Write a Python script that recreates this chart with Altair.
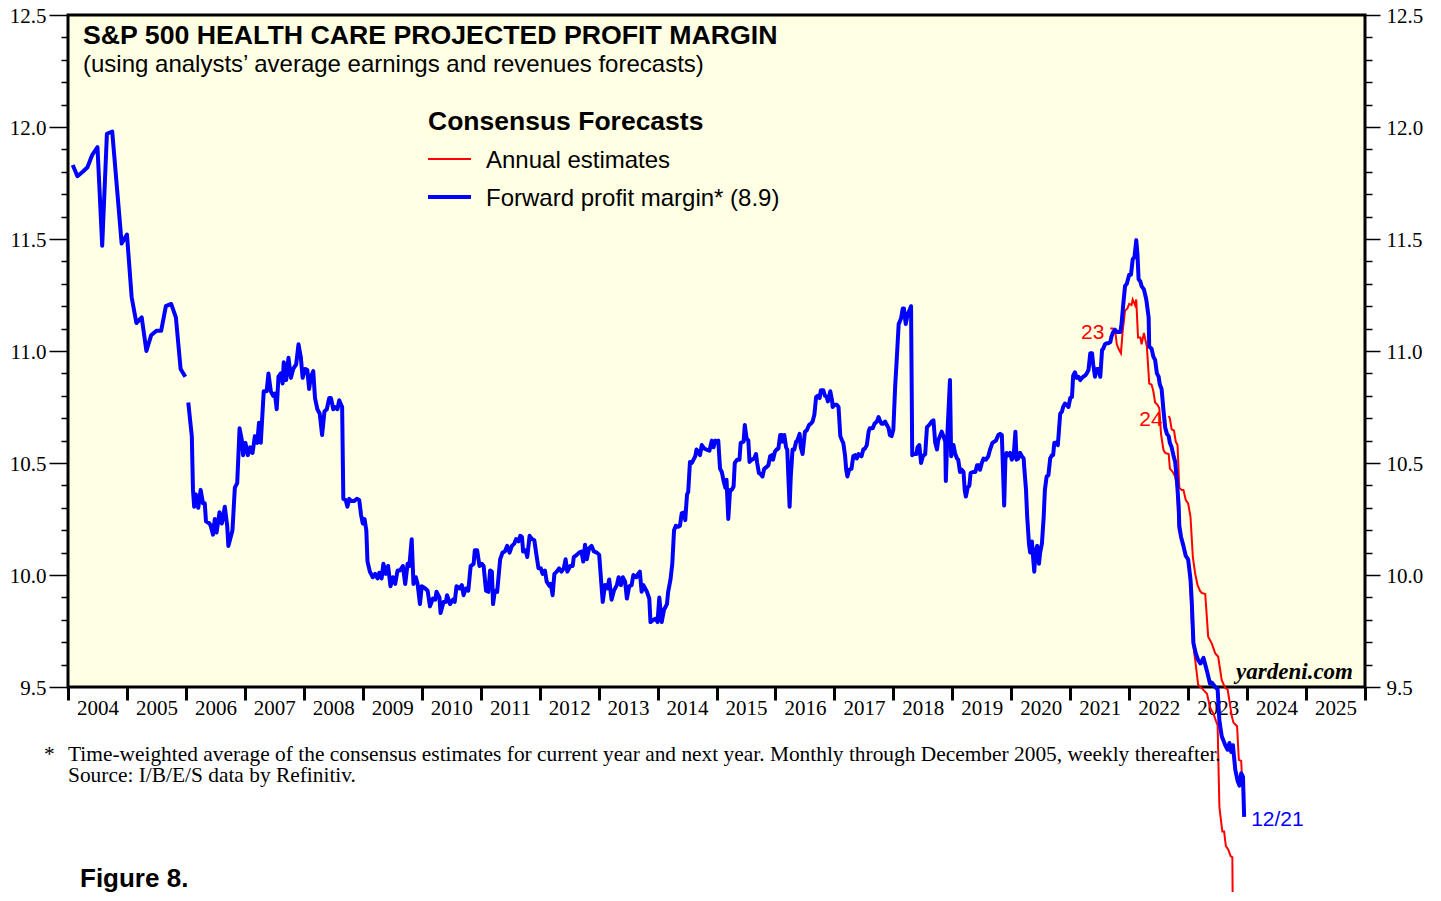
import altair as alt
import pandas as pd

# ---------------- data ----------------
# Forward profit margin, monthly Jan 2004 - Dec 2005
mon_years = [2004.08, 2004.16, 2004.25, 2004.33, 2004.41, 2004.50, 2004.58, 2004.66,
             2004.75, 2004.83, 2004.91, 2005.00, 2005.08, 2005.16, 2005.25, 2005.33,
             2005.41, 2005.50, 2005.58, 2005.66, 2005.75, 2005.83, 2005.91, 2005.99]
mon_vals = [11.83, 11.78, 11.80, 11.82, 11.875, 11.91, 11.47, 11.97,
            11.98, 11.73, 11.48, 11.52, 11.24, 11.125, 11.15, 11.00,
            11.07, 11.09, 11.09, 11.20, 11.21, 11.15, 10.92, 10.885]

# Forward profit margin, weekly thereafter
wk_years = [
    2006.04, 2006.10, 2006.12, 2006.14, 2006.17, 2006.21, 2006.25, 2006.29, 2006.32, 2006.34,
    2006.40, 2006.42, 2006.46, 2006.49, 2006.52, 2006.57, 2006.61, 2006.66, 2006.70, 2006.72,
    2006.76, 2006.79, 2006.83, 2006.87, 2006.91, 2006.95, 2006.97, 2007.01, 2007.05, 2007.09,
    2007.13, 2007.17, 2007.21, 2007.24, 2007.27, 2007.32, 2007.37, 2007.40, 2007.44, 2007.48,
    2007.51, 2007.54, 2007.57, 2007.61, 2007.64, 2007.66, 2007.70, 2007.74, 2007.78, 2007.82,
    2007.87, 2007.91, 2007.95, 2007.98, 2008.02, 2008.06, 2008.09, 2008.12, 2008.16, 2008.19,
    2008.23, 2008.27, 2008.31, 2008.35, 2008.39, 2008.43, 2008.46, 2008.50, 2008.53, 2008.57,
    2008.60, 2008.65, 2008.67, 2008.71, 2008.74, 2008.77, 2008.81, 2008.85, 2008.90, 2008.94,
    2008.97, 2009.00, 2009.03, 2009.06, 2009.08, 2009.12, 2009.17, 2009.21, 2009.25, 2009.28,
    2009.32, 2009.35, 2009.39, 2009.43, 2009.47, 2009.51, 2009.55, 2009.59, 2009.63, 2009.68,
    2009.72, 2009.76, 2009.79, 2009.83, 2009.86, 2009.90, 2009.93, 2009.97, 2010.00, 2010.06,
    2010.10, 2010.14, 2010.19, 2010.23, 2010.25, 2010.30, 2010.32, 2010.37, 2010.41, 2010.43,
    2010.48, 2010.53, 2010.56, 2010.59, 2010.64, 2010.68, 2010.71, 2010.75, 2010.79, 2010.83,
    2010.88, 2010.90, 2010.94, 2010.98, 2011.02, 2011.05, 2011.09, 2011.13, 2011.16, 2011.19,
    2011.21, 2011.24, 2011.28, 2011.33, 2011.37, 2011.41, 2011.45, 2011.49, 2011.53, 2011.57,
    2011.60, 2011.64, 2011.67, 2011.70, 2011.72, 2011.76, 2011.79, 2011.83, 2011.87, 2011.91,
    2011.94, 2011.98, 2012.02, 2012.05, 2012.09, 2012.12, 2012.17, 2012.19, 2012.22, 2012.25,
    2012.29, 2012.33, 2012.37, 2012.41, 2012.44, 2012.47, 2012.52, 2012.56, 2012.58, 2012.63,
    2012.67, 2012.71, 2012.74, 2012.77, 2012.80, 2012.84, 2012.88, 2012.92, 2012.97, 2013.01,
    2013.04, 2013.07, 2013.11, 2013.15, 2013.18, 2013.22, 2013.26, 2013.31, 2013.34, 2013.38,
    2013.41, 2013.45, 2013.48, 2013.52, 2013.56, 2013.59, 2013.64, 2013.67, 2013.70, 2013.73,
    2013.76, 2013.82, 2013.86, 2013.88, 2013.93, 2013.97, 2014.00, 2014.03, 2014.07, 2014.11,
    2014.16, 2014.18, 2014.22, 2014.25, 2014.28, 2014.31, 2014.35, 2014.38, 2014.41, 2014.45,
    2014.47, 2014.50, 2014.52, 2014.55, 2014.58, 2014.61, 2014.64, 2014.66, 2014.69, 2014.72,
    2014.75, 2014.79, 2014.83, 2014.88, 2014.92, 2014.95, 2014.98, 2015.00, 2015.03, 2015.06,
    2015.09, 2015.12, 2015.15, 2015.17, 2015.20, 2015.23, 2015.26, 2015.29, 2015.31, 2015.35,
    2015.39, 2015.41, 2015.46, 2015.48, 2015.51, 2015.54, 2015.56, 2015.60, 2015.64, 2015.67,
    2015.69, 2015.72, 2015.75, 2015.78, 2015.81, 2015.84, 2015.88, 2015.91, 2015.94, 2015.96,
    2015.99, 2016.02, 2016.05, 2016.08, 2016.11, 2016.12, 2016.15, 2016.18, 2016.20, 2016.24,
    2016.26, 2016.29, 2016.32, 2016.35, 2016.37, 2016.41, 2016.43, 2016.46, 2016.50, 2016.53,
    2016.57, 2016.60, 2016.63, 2016.66, 2016.69, 2016.72, 2016.75, 2016.77, 2016.81, 2016.84,
    2016.87, 2016.89, 2016.93, 2016.96, 2016.97, 2017.00, 2017.04, 2017.07, 2017.10, 2017.13,
    2017.15, 2017.18, 2017.20, 2017.22, 2017.25, 2017.29, 2017.32, 2017.35, 2017.38, 2017.41,
    2017.43, 2017.46, 2017.49, 2017.52, 2017.55, 2017.58, 2017.60, 2017.65, 2017.68, 2017.72,
    2017.75, 2017.77, 2017.80, 2017.83, 2017.86, 2017.89, 2017.92, 2017.94, 2017.97, 2018.00,
    2018.03, 2018.06, 2018.09, 2018.13, 2018.16, 2018.18, 2018.21, 2018.24, 2018.27, 2018.30,
    2018.32, 2018.35, 2018.39, 2018.41, 2018.44, 2018.47, 2018.50, 2018.54, 2018.57, 2018.61,
    2018.65, 2018.68, 2018.71, 2018.74, 2018.76, 2018.79, 2018.82, 2018.85, 2018.88, 2018.89,
    2018.92, 2018.96, 2018.98, 2019.02, 2019.05, 2019.08, 2019.10, 2019.13, 2019.16, 2019.19,
    2019.21, 2019.23, 2019.26, 2019.29, 2019.31, 2019.35, 2019.39, 2019.42, 2019.45, 2019.47,
    2019.50, 2019.53, 2019.57, 2019.61, 2019.64, 2019.68, 2019.71, 2019.74, 2019.78, 2019.81,
    2019.84, 2019.88, 2019.90, 2019.92, 2019.95, 2019.98, 2020.01, 2020.04, 2020.07, 2020.09,
    2020.12, 2020.15, 2020.18, 2020.21, 2020.22, 2020.25, 2020.27, 2020.30, 2020.32, 2020.35,
    2020.37, 2020.39, 2020.41, 2020.44, 2020.47, 2020.49, 2020.52, 2020.55, 2020.57, 2020.60,
    2020.63, 2020.66, 2020.69, 2020.71, 2020.73, 2020.76, 2020.79, 2020.83, 2020.86, 2020.88,
    2020.91, 2020.94, 2020.97, 2021.00, 2021.03, 2021.05, 2021.08, 2021.11, 2021.14, 2021.17,
    2021.20, 2021.22, 2021.25, 2021.28, 2021.31, 2021.34, 2021.37, 2021.39, 2021.42, 2021.45,
    2021.48, 2021.51, 2021.54, 2021.56, 2021.59, 2021.62, 2021.65, 2021.68, 2021.70, 2021.73,
    2021.76, 2021.79, 2021.82, 2021.85, 2021.87, 2021.90, 2021.93, 2021.96, 2022.00, 2022.03,
    2022.06, 2022.09, 2022.12, 2022.14, 2022.16, 2022.19, 2022.21, 2022.25, 2022.29, 2022.33,
    2022.34, 2022.38, 2022.41, 2022.44, 2022.47, 2022.50, 2022.52, 2022.55, 2022.58, 2022.61,
    2022.64, 2022.67, 2022.69, 2022.72, 2022.75, 2022.78, 2022.81, 2022.84, 2022.85, 2022.88,
    2022.92, 2022.96, 2023.00, 2023.04, 2023.06, 2023.09, 2023.13, 2023.17, 2023.21, 2023.26,
    2023.29, 2023.33, 2023.37, 2023.40, 2023.46, 2023.50, 2023.53, 2023.57, 2023.63, 2023.67,
    2023.70, 2023.73, 2023.76, 2023.80, 2023.84, 2023.87, 2023.90, 2023.93, 2023.95]
wk_vals = [
    10.77, 10.62, 10.38, 10.305, 10.36, 10.30, 10.38, 10.32, 10.32, 10.24,
    10.23, 10.22, 10.18, 10.25, 10.19, 10.28, 10.23, 10.305, 10.22, 10.13,
    10.17, 10.20, 10.39, 10.41, 10.655, 10.60, 10.535, 10.59, 10.535, 10.57,
    10.545, 10.62, 10.59, 10.68, 10.59, 10.82, 10.82, 10.90, 10.82, 10.80,
    10.81, 10.74, 10.885, 10.90, 10.855, 10.95, 10.87, 10.97, 10.88, 10.92,
    10.94, 11.03, 10.97, 10.88, 10.92, 10.915, 10.83, 10.885, 10.91, 10.79,
    10.74, 10.72, 10.625, 10.73, 10.74, 10.79, 10.79, 10.74, 10.75, 10.74,
    10.78, 10.75, 10.34, 10.335, 10.305, 10.34, 10.33, 10.33, 10.34, 10.335,
    10.27, 10.23, 10.25, 10.20, 10.06, 10.015, 9.99, 10.005, 9.985, 10.01,
    9.985, 10.05, 10.005, 10.04, 9.95, 9.99, 9.96, 10.02, 10.02, 10.04,
    9.96, 10.05, 10.04, 10.16, 9.96, 9.99, 9.96, 9.87, 9.95, 9.94,
    9.93, 9.86, 9.895, 9.89, 9.925, 9.90, 9.83, 9.88, 9.88, 9.91,
    9.87, 9.89, 9.88, 9.95, 9.94, 9.955, 9.91, 9.94, 9.93, 10.04,
    10.05, 10.11, 10.11, 10.04, 10.05, 10.04, 9.93, 9.925, 10.02, 10.015,
    9.87, 9.93, 9.925, 10.07, 10.10, 10.105, 10.13, 10.10, 10.13, 10.14,
    10.16, 10.15, 10.175, 10.17, 10.105, 10.11, 10.08, 10.175, 10.16, 10.155,
    10.10, 10.03, 10.03, 10.005, 10.02, 9.97, 9.95, 9.96, 9.91, 10.005,
    10.015, 10.03, 10.015, 10.03, 10.07, 10.015, 10.04, 10.04, 10.08, 10.09,
    10.10, 10.105, 10.06, 10.135, 10.07, 10.12, 10.13, 10.105, 10.10, 10.09,
    9.985, 9.88, 9.955, 9.94, 9.98, 9.89, 9.93, 9.955, 9.99, 9.955,
    9.99, 9.97, 9.895, 9.95, 9.955, 10.00, 9.99, 10.005, 10.015, 9.925,
    9.955, 9.925, 9.895, 9.79, 9.80, 9.805, 9.79, 9.90, 9.79, 9.845,
    9.87, 9.925, 9.98, 10.05, 10.20, 10.22, 10.215, 10.22, 10.275, 10.28,
    10.245, 10.36, 10.37, 10.505, 10.50, 10.515, 10.53, 10.56, 10.55, 10.535,
    10.58, 10.565, 10.56, 10.555, 10.60, 10.57, 10.60, 10.595, 10.60, 10.475,
    10.46, 10.42, 10.39, 10.425, 10.25, 10.38, 10.38, 10.395, 10.50, 10.515,
    10.515, 10.59, 10.595, 10.67, 10.61, 10.60, 10.505, 10.515, 10.52, 10.54,
    10.50, 10.455, 10.45, 10.44, 10.475, 10.48, 10.49, 10.53, 10.535, 10.515,
    10.55, 10.56, 10.565, 10.625, 10.625, 10.595, 10.625, 10.57, 10.56, 10.305,
    10.44, 10.56, 10.56, 10.595, 10.60, 10.63, 10.57, 10.54, 10.64, 10.645,
    10.67, 10.675, 10.685, 10.715, 10.795, 10.80, 10.79, 10.825, 10.825, 10.80,
    10.795, 10.775, 10.82, 10.78, 10.75, 10.76, 10.76, 10.75, 10.62, 10.60,
    10.59, 10.535, 10.47, 10.44, 10.47, 10.475, 10.53, 10.535, 10.52, 10.54,
    10.535, 10.53, 10.56, 10.565, 10.58, 10.64, 10.655, 10.655, 10.675, 10.685,
    10.705, 10.69, 10.675, 10.675, 10.685, 10.67, 10.655, 10.625, 10.62, 10.65,
    10.84, 10.975, 11.12, 11.145, 11.19, 11.19, 11.12, 11.16, 11.18, 11.20,
    10.535, 10.54, 10.54, 10.57, 10.58, 10.50, 10.53, 10.54, 10.66, 10.67,
    10.685, 10.69, 10.59, 10.56, 10.60, 10.62, 10.64, 10.62, 10.595, 10.42,
    10.65, 10.87, 10.53, 10.58, 10.54, 10.52, 10.515, 10.46, 10.47, 10.46,
    10.38, 10.35, 10.39, 10.40, 10.455, 10.46, 10.46, 10.49, 10.49, 10.47,
    10.50, 10.52, 10.515, 10.53, 10.56, 10.59, 10.595, 10.60, 10.625, 10.63,
    10.625, 10.31, 10.515, 10.545, 10.535, 10.545, 10.515, 10.53, 10.64, 10.515,
    10.52, 10.545, 10.53, 10.52, 10.48, 10.38, 10.26, 10.14, 10.10, 10.15,
    10.08, 10.015, 10.10, 10.13, 10.05, 10.10, 10.14, 10.26, 10.38, 10.44,
    10.445, 10.52, 10.535, 10.535, 10.59, 10.59, 10.58, 10.72, 10.73, 10.75,
    10.765, 10.76, 10.75, 10.79, 10.795, 10.89, 10.905, 10.88, 10.885, 10.87,
    10.88, 10.885, 10.89, 10.90, 10.915, 10.99, 10.99, 10.94, 10.885, 10.92,
    10.92, 10.885, 11.005, 11.01, 11.03, 11.035, 11.035, 11.04, 11.065, 11.085,
    11.095, 11.085, 11.085, 11.085, 11.12, 11.21, 11.29, 11.30, 11.34, 11.34,
    11.41, 11.42, 11.495, 11.435, 11.32, 11.31, 11.29, 11.275, 11.23, 11.15,
    11.02, 11.01, 10.975, 10.96, 10.90, 10.885, 10.85, 10.83, 10.74, 10.66,
    10.63, 10.62, 10.59, 10.57, 10.535, 10.505, 10.42, 10.305, 10.22, 10.17,
    10.13, 10.085, 10.07, 9.98, 9.89, 9.695, 9.65, 9.62, 9.605, 9.63,
    9.60, 9.56, 9.515, 9.52, 9.50, 9.49, 9.35, 9.28, 9.24, 9.22,
    9.25, 9.21, 9.24, 9.13, 9.08, 9.06, 9.115, 9.10, 8.92]

# Annual estimates: 2023 profit margin
e23_years = [2021.68, 2021.72, 2021.76, 2021.79, 2021.82, 2021.86, 2021.89, 2021.93, 2021.97, 2022.00,
             2022.04, 2022.06, 2022.10, 2022.12, 2022.15, 2022.19, 2022.21, 2022.25, 2022.30, 2022.34,
             2022.38, 2022.41, 2022.44, 2022.48, 2022.51, 2022.54, 2022.58, 2022.61, 2022.67, 2022.69,
             2022.74, 2022.78, 2022.81, 2022.84, 2022.88, 2022.95, 2023.02, 2023.06, 2023.08, 2023.12,
             2023.17, 2023.23, 2023.32, 2023.37, 2023.43, 2023.47, 2023.50, 2023.53, 2023.55, 2023.58,
             2023.61, 2023.64, 2023.68, 2023.72, 2023.75, 2023.76]
e23_vals = [11.10, 11.10, 11.095, 11.03, 11.01, 10.99, 11.09, 11.18, 11.19, 11.21,
            11.205, 11.23, 11.205, 11.23, 11.06, 11.06, 11.03, 11.08, 11.02, 10.855,
            10.85, 10.82, 10.77, 10.76, 10.745, 10.63, 10.56, 10.545, 10.54, 10.475,
            10.46, 10.44, 10.395, 10.20, 10.17, 10.10, 10.045, 9.80, 9.70, 9.62,
            9.51, 9.495, 9.47, 9.41, 9.38, 9.35, 9.33, 8.965, 8.92, 8.855,
            8.855, 8.79, 8.775, 8.745, 8.74, 8.40]

# Annual estimates: 2024 profit margin
e24_years = [2022.67, 2022.69, 2022.72, 2022.76, 2022.79, 2022.82, 2022.85, 2022.89, 2022.92, 2022.96,
             2023.00, 2023.04, 2023.08, 2023.12, 2023.16, 2023.20, 2023.23, 2023.29, 2023.34, 2023.40,
             2023.46, 2023.51, 2023.57, 2023.63, 2023.67, 2023.74, 2023.77, 2023.83, 2023.86, 2023.90,
             2023.91]
e24_vals = [10.71, 10.70, 10.65, 10.645, 10.595, 10.58, 10.39, 10.38, 10.38, 10.335,
            10.32, 10.26, 10.08, 10.005, 9.955, 9.93, 9.92, 9.915, 9.725, 9.695,
            9.65, 9.635, 9.53, 9.495, 9.49, 9.37, 9.34, 9.325, 9.175, 9.17,
            9.115]

year_ticks = list(range(2004, 2027))
margin_ticks = [round(9.5 + 0.1 * i, 1) for i in range(31)]

# ---------------- tables ----------------
blue_df = pd.DataFrame({
    "yr": mon_years + wk_years,
    "val": mon_vals + wk_vals,
    "seg": ["monthly"] * len(mon_years) + ["weekly"] * len(wk_years),
})
red_df = pd.DataFrame({
    "yr": e23_years + e24_years,
    "val": e23_vals + e24_vals,
    "est": ["23"] * len(e23_years) + ["24"] * len(e24_years),
})
red_lbl = pd.DataFrame({"yr": [e23_years[0], e24_years[0]],
                        "val": [e23_vals[0], e24_vals[0]],
                        "txt": ["23", "24"]})
blue_lbl = pd.DataFrame({"yr": [wk_years[-1]], "val": [wk_vals[-1]], "txt": ["12/21"]})

SERIF = "Liberation Serif"
SANS = "Liberation Sans"
xs = alt.Scale(domain=[2004, 2026], nice=False, zero=False)
ys = alt.Scale(domain=[9.5, 12.5], nice=False, zero=False)
major = "abs(datum.value * 2 - round(datum.value * 2)) < 0.01"

x_axis = alt.Axis(orient="bottom", values=year_ticks, format="d",
                  labelExpr="datum.value < 2026 ? datum.label : ''",
                  labelOffset=29.5, tickSize=13, tickWidth=3, tickColor="black",
                  domain=False, grid=False, labelFont=SERIF, labelFontSize=21,
                  labelColor="black", labelPadding=-3, labelFlush=False,
                  labelOverlap=False, title=None)


def y_axis(orient, big, pad):
    return alt.Axis(orient=orient, values=margin_ticks,
                    labelExpr=major + " ? format(datum.value, '.1f') : ''",
                    tickSize={"condition": {"test": major, "value": big}, "value": 7},
                    tickWidth=1.5, tickColor="black", domain=False, grid=False,
                    labelFont=SERIF, labelFontSize=21, labelColor="black",
                    labelPadding=pad, labelOffset=1.5, labelOverlap=False, title=None)


red_layer = alt.Chart(red_df).mark_line(color="#FF0000", strokeWidth=2, clip=False).encode(
    x=alt.X("yr:Q", scale=xs, axis=x_axis),
    y=alt.Y("val:Q", scale=ys, axis=y_axis("right", 15, 6)),
    detail="est:N",
)
blue_layer = alt.Chart(blue_df).mark_line(color="#0000FF", strokeWidth=4, clip=False,
                                          strokeJoin="round").encode(
    x=alt.X("yr:Q", scale=xs, axis=x_axis),
    y=alt.Y("val:Q", scale=ys, axis=y_axis("left", 19, 3)),
    detail="seg:N",
)
red_text = alt.Chart(red_lbl).mark_text(color="#FF0000", font=SANS, fontSize=21, align="right",
                                        baseline="middle", dx=-6, dy=4).encode(
    x=alt.X("yr:Q", scale=xs, axis=x_axis),
    y=alt.Y("val:Q", scale=ys, axis=None),
    text="txt:N",
)
blue_text = alt.Chart(blue_lbl).mark_text(color="#0000FF", font=SANS, fontSize=21, align="left",
                                          baseline="middle", dx=7, dy=3).encode(
    x=alt.X("yr:Q", scale=xs, axis=x_axis),
    y=alt.Y("val:Q", scale=ys, axis=None),
    text="txt:N",
)


def note(s, x, y, font=SANS, size=24, weight="normal", style="normal", align="left", color="black"):
    return alt.Chart(pd.DataFrame({"t": [s]})).mark_text(
        font=font, fontSize=size, fontWeight=weight, fontStyle=style, align=align,
        baseline="alphabetic", color=color,
    ).encode(text="t:N", x=alt.value(x), y=alt.value(y))


def swatch(color, width, y):
    return alt.Chart(pd.DataFrame({"k": [0]})).mark_rule(color=color, strokeWidth=width).encode(
        x=alt.value(360), x2=alt.value(403), y=alt.value(y))


texts = [
    note("S&P 500 HEALTH CARE PROJECTED PROFIT MARGIN", 15, 29, size=26.7, weight="bold"),
    note("(using analysts\u2019 average earnings and revenues forecasts)", 15, 56.5, size=24),
    note("Consensus Forecasts", 360, 115, size=26.5, weight="bold"),
    note("Annual estimates", 418, 153, size=24),
    note("Forward profit margin* (8.9)", 418, 191, size=24),
    note("yardeni.com", 1285, 664, font=SERIF, size=23, weight="bold", style="italic", align="right"),
    note("*", -24, 746, font=SERIF, size=21.4),
    note("Time-weighted average of the consensus estimates for current year and next year. "
         "Monthly through December 2005, weekly thereafter.", 0, 746, font=SERIF, size=21.4),
    note("Source: I/B/E/S data by Refinitiv.", 0, 767, font=SERIF, size=21.4),
    note("Figure 8.", 12, 872, size=26, weight="bold"),
]

chart = alt.layer(
    red_layer, blue_layer, red_text, blue_text,
    swatch("#FF0000", 2, 144), swatch("#0000FF", 4, 182),
    *texts,
).resolve_axis(y="independent").properties(
    width=1297, height=672,
    padding={"left": 60, "top": 7, "right": 60, "bottom": 205},
    autosize=alt.AutoSizeParams(type="none"),
    background="white",
).configure_view(fill="#FFFFE4", stroke="black", strokeWidth=3)

chart.save("out.html", embed_options={"renderer": "svg", "actions": False})
